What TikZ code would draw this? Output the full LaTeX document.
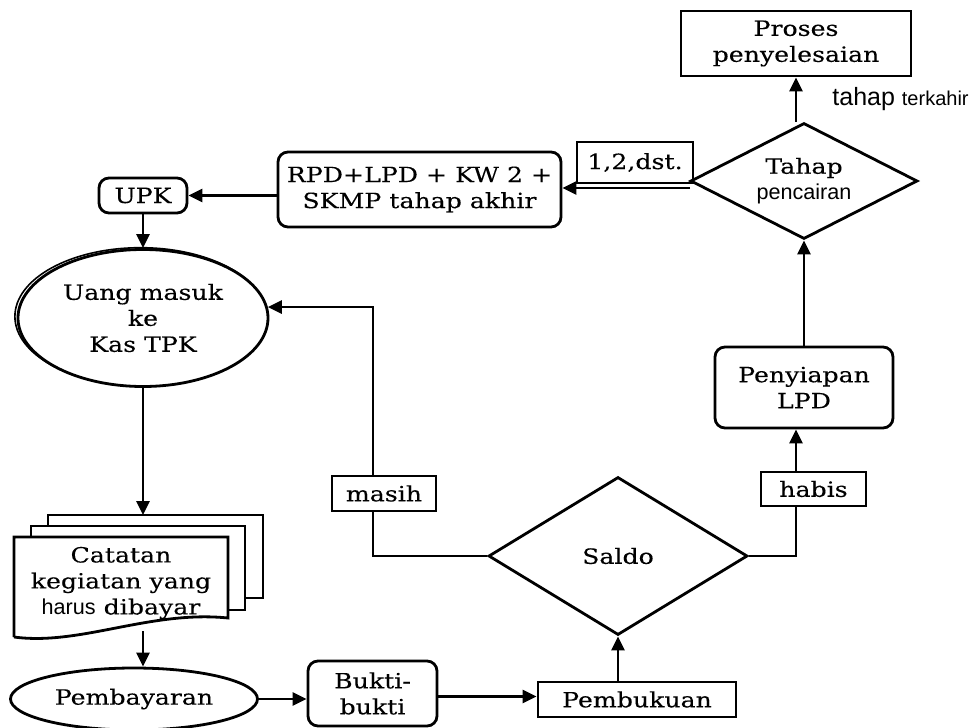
\documentclass[tikz,border=0pt]{standalone}
\usepackage{fontspec}
\setmainfont[FakeStretch=1.2,FakeBold=0.2]{DejaVu Serif}
\newfontfamily\sans{Liberation Sans}
\usetikzlibrary{shapes.geometric,arrows.meta}

\tikzset{
  garis/.style={line width=1.4pt},
  arr/.style={line width=1.4pt,-{Triangle[length=7pt,width=6.5pt]}},
  kotak/.style={draw,line width=1.4pt,align=center,inner sep=0pt},
  rkotak/.style={kotak,rounded corners=5pt},
  cabang/.style={kotak,diamond,aspect=2},
  oval/.style={kotak,ellipse}
}

\begin{document}
\begin{tikzpicture}[x=0.5pt,y=-0.5pt,font=\fontsize{10.5}{13}\selectfont]
\useasboundingbox (0,0) rectangle (978,727);
\node[kotak,minimum width=115pt,minimum height=32.5pt] (proses) at (796,43.5) {Proses\\penyelesaian};
\node[anchor=west,inner sep=0pt] (terakhir) at (832,99) {\sans\fontsize{12.5}{14}\selectfont tahap \fontsize{10}{12}\selectfont terkahir};
\node[cabang,minimum width=113.5pt,minimum height=58pt] (tahap) at (804,181) {Tahap\\{\sans\fontsize{10.8}{12.5}\selectfont pencairan}};
\node[kotak,minimum width=58pt,minimum height=20.5pt] (dst) at (635,162.5) {1,2,dst.};
\node[rkotak,minimum width=141.5pt,minimum height=37.5pt] (rpd) at (419.5,189.5) {RPD+LPD + KW 2 +\\SKMP tahap akhir};
\node[rkotak,minimum width=44pt,minimum height=17.5pt] (upk) at (143,195.5) {UPK};
\draw[line width=0.8pt] (140.5,316.5) ellipse [x radius=62.8pt, y radius=34.4pt];
\node[oval,fill=white,minimum width=125pt,minimum height=68.5pt] (uang) at (143,318) {Uang masuk\\ke\\Kas TPK};
\node[rkotak,minimum width=89pt,minimum height=40.5pt] (penyiapan) at (804,387.5) {Penyiapan\\LPD};
\node[kotak,minimum width=52.5pt,minimum height=17pt] (habis) at (813.5,489) {habis};
\node[kotak,minimum width=52pt,minimum height=17.5pt] (masih) at (384,493.5) {masih};
\node[cabang,aspect=1.6,minimum width=129.5pt,minimum height=79pt] (saldo) at (618,556) {Saldo};
\draw[garis,fill=white] (48,515) rectangle (263,598);
\draw[garis,fill=white] (31,526) rectangle (245,610);
\draw[garis,fill=white] (14,637) -- (14,537) -- (228,537) -- (228,618) .. controls (150,610) and (80,646) .. (14,637);
\node[align=center,inner sep=0pt] (catatan) at (121,583) {Catatan\\kegiatan yang\\{\sans\fontsize{10.8}{12}\selectfont harus} dibayar};
\coordinate (catatanatas) at (143,515);
\coordinate (catatanbawah) at (143,631);
\node[oval,minimum width=123.5pt,minimum height=31pt] (pembayaran) at (134,699) {Pembayaran};
\node[rkotak,minimum width=64.5pt,minimum height=32.5pt] (bukti) at (372.5,693.5) {Bukti-\\bukti};
\node[kotak,minimum width=99pt,minimum height=17.5pt] (pembukuan) at (637,699.5) {Pembukuan};
\coordinate (dstkiri) at (690,188);
\coordinate (m1) at (373,0);
\coordinate (h1) at (796,0);
\coordinate (bp) at (437,696.5);
\draw[arr] (tahap.north -| proses.south) -- (proses.south);
\draw[arr] (dstkiri) -- (dstkiri -| rpd.east);
\draw[arr] (rpd.west |- upk.east) -- (upk.east);
\draw[arr] (upk.south) -- (uang.north);
\draw[arr] (uang.south) -- (catatanatas);
\draw[arr] (catatanbawah) -- (catatanbawah |- pembayaran.north);
\draw[arr] (pembayaran.east) -- (bukti.west |- pembayaran.east);
\draw[arr] (bp -| bukti.east) -- (bp -| pembukuan.west);
\draw[arr] (pembukuan.north -| saldo.south) -- (saldo.south);
\draw[garis] (saldo.west) -| (masih.south -| m1);
\draw[arr] (masih.north -| m1) |- (uang.5);
\draw[garis] (saldo.east) -| (habis.south -| h1);
\draw[arr] (habis.north -| h1) -- (penyiapan.south -| h1);
\draw[arr] (penyiapan.north) -- (tahap.south);
\end{tikzpicture}
\end{document}
